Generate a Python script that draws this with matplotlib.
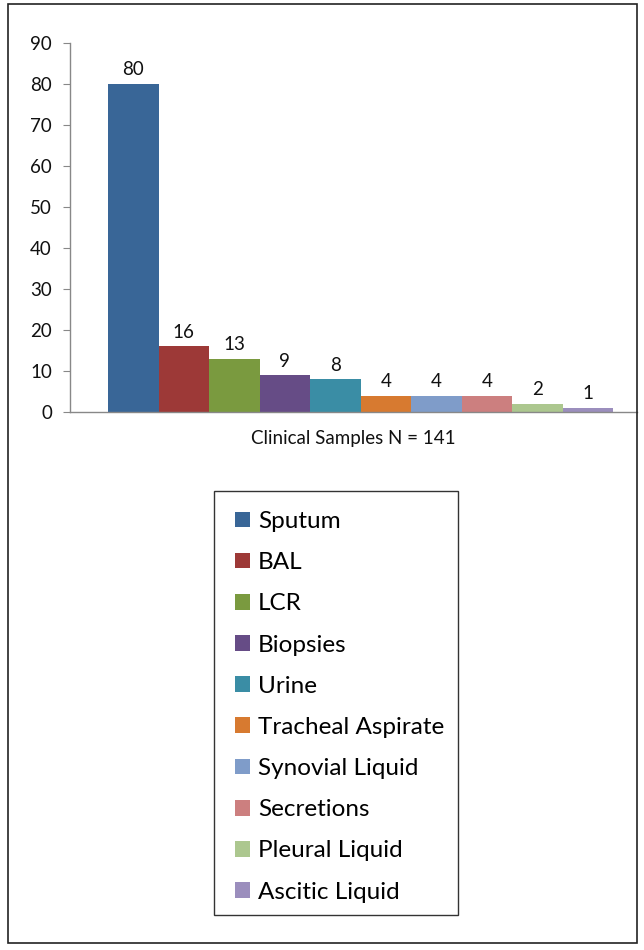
import matplotlib.pyplot as plt
from matplotlib.patches import Rectangle, Patch

# Data
categories = ["Sputum", "BAL", "LCR", "Biopsies", "Urine",
              "Tracheal Aspirate", "Synovial Liquid", "Secretions",
              "Pleural Liquid", "Ascitic Liquid"]
counts = [80, 16, 13, 9, 8, 4, 4, 4, 2, 1]
colors = ["#396697", "#9D3937", "#7A9A3F", "#664C86", "#3A8DA5",
          "#D77A30", "#7F9CC9", "#CC7F7F", "#ACC78F", "#9B8EBD"]
yTicks = [0, 10, 20, 30, 40, 50, 60, 70, 80, 90]
xLabel = "Clinical Samples N = 141"

plt.rcParams['font.family'] = ['Lato', 'DejaVu Sans']

W, H = 644, 950
fig = plt.figure(figsize=(W / 100, H / 100), dpi=100)

# outer frame around the whole chart
fig.patches.append(Rectangle((8 / W, 1 - 943 / H), 629 / W, 939 / H,
                             transform=fig.transFigure, fill=False,
                             edgecolor="#222222", linewidth=1.2))

axLeft, axRight, axTop, axBottom = 70, 637, 43, 412
ax = fig.add_axes([axLeft / W, 1 - axBottom / H,
                   (axRight - axLeft) / W, (axBottom - axTop) / H])

positions = list(range(len(counts)))
bars = ax.bar(positions, counts, width=1.0, color=colors, linewidth=0)
for rect, value in zip(bars, counts):
    ax.annotate(str(value), (rect.get_x() + rect.get_width() / 2, value),
                xytext=(0, 4), textcoords="offset points",
                ha="center", va="bottom", fontsize=13.5, color="#111111")

# bars span 108..613 px, 50.5 px per category
ax.set_xlim(-0.5 - (108 - axLeft) / 50.5, 9.5 + (axRight - 613) / 50.5)
ax.set_ylim(0, 90)
ax.set_yticks(yTicks)
ax.set_xticks([])
ax.tick_params(axis="y", length=5, color="#888888", labelsize=13.5,
               labelcolor="#111111", pad=8)
for side in ["top", "right"]:
    ax.spines[side].set_visible(False)
for side in ["left", "bottom"]:
    ax.spines[side].set_color("#888888")
    ax.spines[side].set_linewidth(1.0)
ax.set_xlabel(xLabel, fontsize=13.5, color="#111111", labelpad=13)

# legend box
fig.patches.append(Rectangle((214 / W, 1 - 915 / H), 244 / W, 424 / H,
                             transform=fig.transFigure, fill=False,
                             edgecolor="#333333", linewidth=1.0))
handles = [Patch(facecolor=c, edgecolor="none") for c in colors]
fig.legend(handles, categories, loc="upper left",
           bbox_to_anchor=(235 / W, 1 - 511 / H), frameon=False,
           fontsize=17.5, borderpad=0, borderaxespad=0,
           handlelength=0.62, handleheight=0.62, handletextpad=0.33,
           labelspacing=0.83)

fig.savefig("out.png", dpi=100)
